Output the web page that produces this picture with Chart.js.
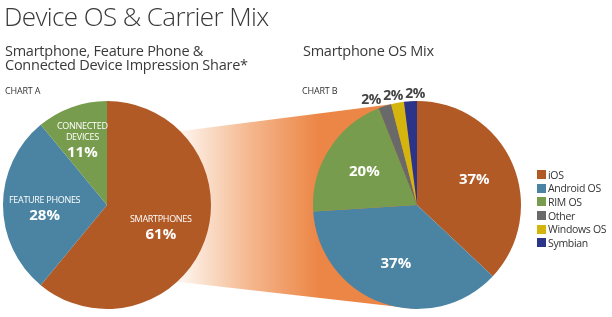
<!DOCTYPE html>
<html>
<head>
<meta charset="utf-8">
<script src="https://cdn.jsdelivr.net/npm/chart.js@4.4.1/dist/chart.umd.min.js"></script>
<style>
  html, body { margin: 0; padding: 0; background: #fff; }
  body { width: 612px; height: 317px; position: relative; overflow: hidden; font-family: "Open Sans", sans-serif; color: #333; }
  canvas { position: absolute; }
  .txt { position: absolute; white-space: nowrap; }
  #title { left: 4px; top: 3px; font-size: 26px; line-height: 26px; font-weight: 300; letter-spacing: -0.6px; color: #3a3a3a; }
  #subA { left: 5px; top: 44px; font-size: 14.5px; line-height: 14.2px; font-weight: 400; letter-spacing: -0.25px; color: #3a3a3a; }
  #subB { left: 303px; top: 44px; font-size: 14.5px; line-height: 14.2px; font-weight: 400; letter-spacing: -0.25px; color: #3a3a3a; }
  .tag { font-size: 9px; line-height: 9px; letter-spacing: -0.2px; color: #333; }
  #tagA { left: 5px; top: 86px; }
  #tagB { left: 302px; top: 86px; }
  #legend { position: absolute; left: 537px; top: 168px; font-size: 10.5px; letter-spacing: -0.3px; color: #333; }
  #legend .row { height: 13.6px; display: flex; align-items: center; }
  #legend .sw { width: 9px; height: 9px; margin-right: 2px; flex: none; }
</style>
</head>
<body>
<canvas id="band" width="612" height="317" style="left:0;top:0"></canvas>
<canvas id="chartA" width="220" height="227" style="left:0;top:90px"></canvas>
<canvas id="chartB" width="240" height="237" style="left:290px;top:80px"></canvas>
<div class="txt" id="title">Device OS &amp; Carrier Mix</div>
<div class="txt" id="subA">Smartphone, Feature Phone &amp;<br>Connected Device Impression Share*</div>
<div class="txt" id="subB">Smartphone OS Mix</div>
<div class="txt tag" id="tagA">CHART A</div>
<div class="txt tag" id="tagB">CHART B</div>
<div id="legend"></div>
<script>
// Chart A: device impression share
const deviceLabels = [['SMARTPHONES'], ['FEATURE PHONES'], ['CONNECTED', 'DEVICES']];
const deviceShare = [61, 28, 11];
const deviceColors = ['#b15a26', '#4a84a2', '#789c4d'];

// Chart B: smartphone OS mix
const osLabels = ['iOS', 'Android OS', 'RIM OS', 'Other', 'Windows OS', 'Symbian'];
const osShare = [37, 37, 20, 2, 2, 2];
const osColors = ['#b15a26', '#4a84a2', '#789c4d', '#696969', '#d4b50e', '#2b3488'];

const FONT = '"Open Sans", sans-serif';

// draws the percent (and name) labels on each slice
const sliceLabels = {
  id: 'sliceLabels',
  afterDatasetsDraw(chart, args, opts) {
    const ctx = chart.ctx;
    const meta = chart.getDatasetMeta(0);
    const values = chart.data.datasets[0].data;
    ctx.save();
    ctx.textAlign = 'center';
    ctx.textBaseline = 'middle';
    let lastSmallX = null;
    // walk backwards so the small outside labels can be pushed left
    for (let i = meta.data.length - 1; i >= 0; i--) {
      const arc = meta.data[i];
      const v = values[i];
      const mid = (arc.startAngle + arc.endAngle) / 2;
      const r = arc.outerRadius;
      if (v < 5) {
        let x = arc.x + Math.cos(mid) * r * 1.07 + 5;
        const y = arc.y + Math.sin(mid) * r * 1.085 + 2;
        if (lastSmallX !== null && lastSmallX - x < 22) x = lastSmallX - 22;
        lastSmallX = x;
        ctx.fillStyle = '#454545';
        ctx.font = '700 14px ' + FONT;
        ctx.letterSpacing = '-0.6px';
        ctx.fillText(v + '%', x, y);
        ctx.letterSpacing = '0px';
        continue;
      }
      const f = v < 15 ? 0.7 : (v > 50 ? 0.55 : 0.6);
      const cx = arc.x + Math.cos(mid) * r * f;
      const cy = arc.y + Math.sin(mid) * r * f;
      ctx.fillStyle = '#ffffff';
      if (opts.showNames) {
        const lines = chart.data.labels[i];
        const h = (lines.length - 1) * 10.5 + 15.5;
        let y = cy - h / 2 + 3;
        ctx.font = '400 9px ' + FONT;
        ctx.letterSpacing = '-0.3px';
        lines.forEach((ln, k) => {
          ctx.fillText(ln, cx, y + k * 10.5);
        });
        ctx.letterSpacing = '0px';
        ctx.font = '700 15px ' + FONT;
        ctx.fillText(v + '%', cx, y + (lines.length - 1) * 10.5 + 15.5);
      } else {
        ctx.font = '700 15px ' + FONT;
        ctx.fillText(v + '%', cx, cy);
      }
    }
    ctx.restore();
  }
};

function pieConfig(labels, values, colors, padding, showNames) {
  return {
    type: 'pie',
    data: {
      labels,
      datasets: [{ data: values, backgroundColor: colors, borderWidth: 0 }]
    },
    options: {
      responsive: false,
      animation: false,
      layout: { padding },
      plugins: {
        legend: { display: false },
        tooltip: { enabled: false },
        sliceLabels: { showNames }
      }
    },
    plugins: [sliceLabels]
  };
}

const chartA = new Chart(document.getElementById('chartA'),
  pieConfig(deviceLabels, deviceShare, deviceColors, { left: 3, top: 11, right: 9, bottom: 8 }, true));
const chartB = new Chart(document.getElementById('chartB'),
  pieConfig(osLabels, osShare, osColors, { left: 23, top: 21, right: 9, bottom: 8 }, false));

// connector band from chart A to chart B, from the pies' own geometry
(function drawBand() {
  const a = chartA.getDatasetMeta(0).data[0];
  const b = chartB.getDatasetMeta(0).data[0];
  const ax = a.x, ay = a.y + 90, ar = a.outerRadius;
  const bx = b.x + 290, by = b.y + 80, br = b.outerRadius;
  const ctx = document.getElementById('band').getContext('2d');
  const g = ctx.createLinearGradient(ax + ar * 0.75, 0, bx - br * 0.95, 0);
  g.addColorStop(0, '#fdf1e8');
  g.addColorStop(0.5, '#f4b68c');
  g.addColorStop(1, '#ec8646');
  ctx.fillStyle = g;
  ctx.beginPath();
  ctx.moveTo(ax, ay - ar * 0.62);
  ctx.lineTo(bx, by - br);
  ctx.lineTo(bx, by + br);
  ctx.lineTo(ax, ay + ar * 0.66);
  ctx.closePath();
  ctx.fill();
})();

// legend built from chart B's own legend items
const legendEl = document.getElementById('legend');
chartB.options.plugins.legend.labels.generateLabels(chartB).forEach(item => {
  const row = document.createElement('div');
  row.className = 'row';
  row.innerHTML = '<span class="sw" style="background:' + item.fillStyle + '"></span>' + item.text;
  legendEl.appendChild(row);
});
</script>
</body>
</html>
